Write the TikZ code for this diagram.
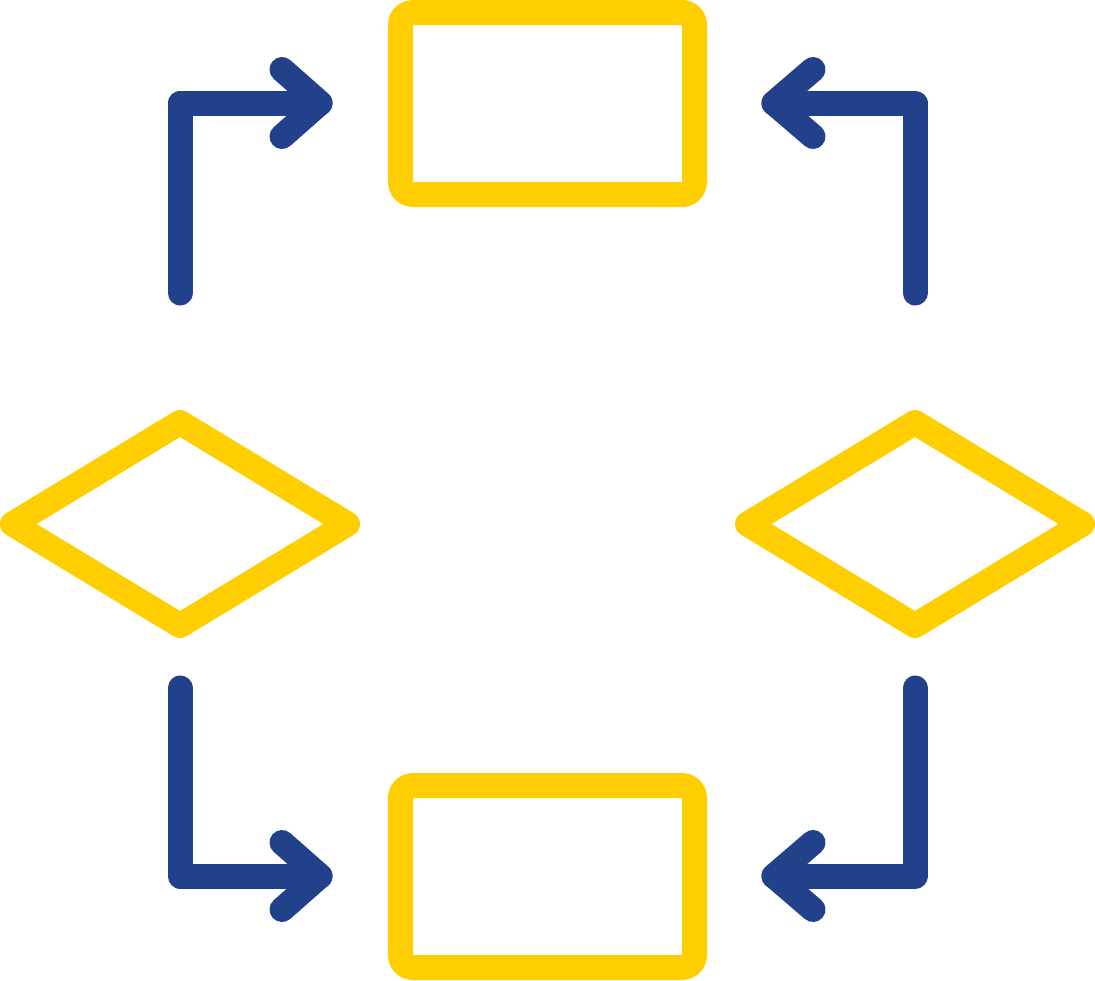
\documentclass[tikz,border=0pt]{standalone}
\usetikzlibrary{shapes.geometric}
\definecolor{flowyellow}{HTML}{FFCE00}
\definecolor{flowblue}{HTML}{21418A}
\begin{document}
\begin{tikzpicture}[x=1pt,y=-1pt,line width=25pt,line cap=round,line join=round,
    box/.style={draw=flowyellow,rectangle,rounded corners=12pt,minimum width=294pt,minimum height=182pt,inner sep=0pt,outer sep=0pt},
    choice/.style={draw=flowyellow,diamond,minimum width=335pt,minimum height=203pt,inner sep=0pt,outer sep=0pt},
    flow/.style={draw=flowblue}]
      \useasboundingbox (0,0) rectangle (1095,980);
      % yellow boxes and decisions
      \node[box] (top) at (547.5,103.5) {};
      \node[box] (bot) at (547.5,876.5) {};
      \node[choice] (left) at (180,524) {};
      \node[choice] (right) at (915,524) {};
      % ends of the blue arrows
      \coordinate (tl-start) at (180,293);
      \coordinate (tl-tip) at (320,103);
      \coordinate (tr-start) at (915,293);
      \coordinate (tr-tip) at (774,103);
      \coordinate (bl-start) at (180,688);
      \coordinate (bl-tip) at (320,876);
      \coordinate (br-start) at (915,688);
      \coordinate (br-tip) at (774,876);
      % blue arrows
      \draw[flow] (tl-start) |- (tl-tip);
      \draw[flow] ([shift={(-38,-33.5)}]tl-tip) -- (tl-tip) -- ([shift={(-38,33.5)}]tl-tip);
      \draw[flow] (tr-start) |- (tr-tip);
      \draw[flow] ([shift={(39,-33.5)}]tr-tip) -- (tr-tip) -- ([shift={(39,33.5)}]tr-tip);
      \draw[flow] (bl-start) |- (bl-tip);
      \draw[flow] ([shift={(-38,-33.5)}]bl-tip) -- (bl-tip) -- ([shift={(-38,33.5)}]bl-tip);
      \draw[flow] (br-start) |- (br-tip);
      \draw[flow] ([shift={(39,-33.5)}]br-tip) -- (br-tip) -- ([shift={(39,33.5)}]br-tip);
    \end{tikzpicture}
\end{document}
